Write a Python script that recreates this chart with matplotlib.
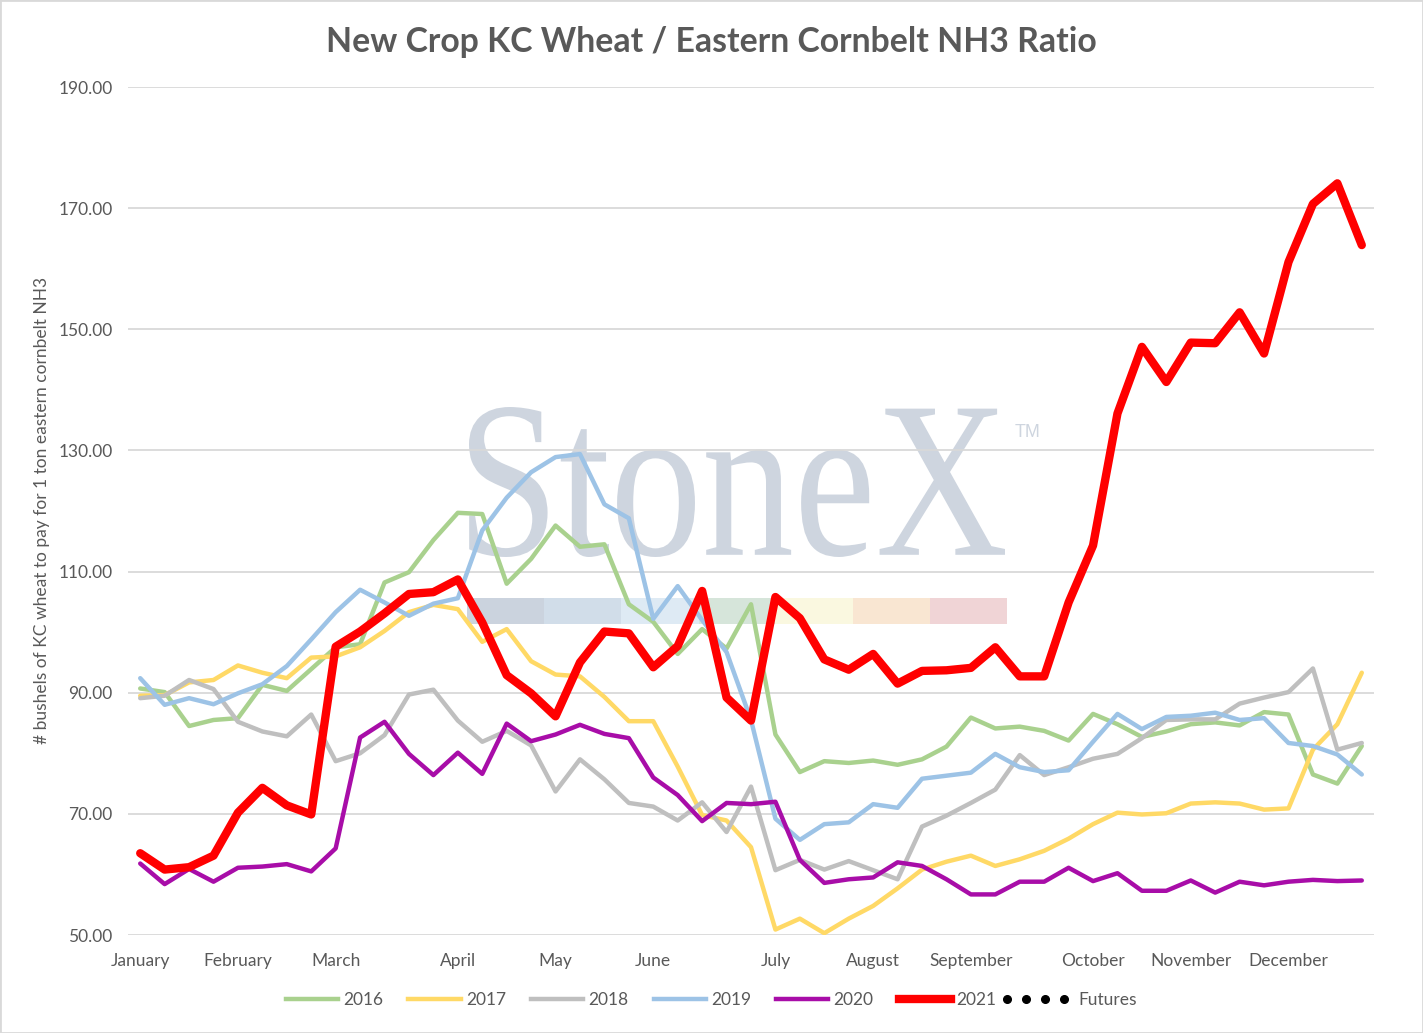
import matplotlib
matplotlib.use("Agg")
import matplotlib.pyplot as plt
import numpy as np
from matplotlib.lines import Line2D
from matplotlib.legend_handler import HandlerLine2D
from matplotlib.patches import PathPatch, Rectangle
from matplotlib.textpath import TextPath
from matplotlib.font_manager import FontProperties
from matplotlib.transforms import Affine2D

W, H = 1423, 1033

# weekly points, month labels only at the first week of each month
months = ["January", "February", "March", "April", "May", "June", "July",
          "August", "September", "October", "November", "December"]
month_pos = [0, 4, 8, 13, 17, 21, 26, 30, 34, 39, 43, 47]

y2016 = [90.7, 90.1, 84.5, 85.5, 85.8, 91.3, 90.3, 93.9, 97.5, 98.0,
         108.2, 109.9, 115.2, 119.7, 119.5, 108.0, 112.1, 117.6, 114.1, 114.5,
         104.6, 101.7, 96.4, 100.5, 97.3, 104.6, 83.1, 76.9, 78.7, 78.4,
         78.8, 78.1, 79.0, 81.1, 85.9, 84.1, 84.4, 83.7, 82.1, 86.5,
         84.8, 82.7, 83.6, 84.8, 85.1, 84.6, 86.8, 86.4, 76.5, 75.0, 81.2]
y2017 = [89.5, 89.6, 91.7, 92.1, 94.5, 93.3, 92.4, 95.8, 96.0, 97.5,
         100.2, 103.3, 104.5, 103.8, 98.4, 100.5, 95.2, 93.0, 92.7, 89.3,
         85.3, 85.3, 77.8, 69.8, 68.9, 64.5, 50.9, 52.7, 50.3, 52.7,
         54.8, 57.7, 60.8, 62.1, 63.1, 61.4, 62.5, 63.9, 65.9, 68.3,
         70.2, 69.9, 70.1, 71.7, 71.9, 71.7, 70.7, 70.9, 80.6, 84.8, 93.3]
y2018 = [89.1, 89.5, 92.1, 90.6, 85.2, 83.6, 82.8, 86.4, 78.7, 80.0,
         83.0, 89.7, 90.5, 85.4, 81.9, 83.7, 81.3, 73.7, 79.0, 75.7,
         71.8, 71.2, 68.9, 71.9, 67.0, 74.5, 60.7, 62.4, 60.8, 62.2,
         60.7, 59.2, 67.9, 69.7, 71.8, 74.0, 79.7, 76.4, 77.7, 79.1,
         79.9, 82.5, 85.5, 85.6, 85.6, 88.2, 89.2, 90.1, 94.0, 80.6, 81.7]
y2019 = [92.4, 88.0, 89.1, 88.1, 89.9, 91.4, 94.4, 98.8, 103.3, 107.0,
         104.9, 102.7, 104.7, 105.6, 116.8, 122.2, 126.4, 128.9, 129.4, 121.1,
         118.8, 102.2, 107.6, 102.0, 96.7, 85.5, 69.2, 65.7, 68.3, 68.6,
         71.6, 71.0, 75.8, 76.3, 76.8, 79.9, 77.7, 76.9, 77.2, 81.9,
         86.5, 84.0, 86.0, 86.2, 86.7, 85.5, 85.8, 81.7, 81.2, 79.8, 76.5]
y2020 = [61.8, 58.4, 60.9, 58.8, 61.1, 61.3, 61.7, 60.5, 64.3, 82.6,
         85.2, 79.9, 76.4, 80.1, 76.6, 84.9, 82.0, 83.1, 84.7, 83.2,
         82.5, 76.0, 73.1, 68.8, 71.8, 71.6, 72.0, 62.4, 58.6, 59.2,
         59.5, 62.0, 61.4, 59.2, 56.7, 56.7, 58.8, 58.8, 61.1, 58.9,
         60.2, 57.3, 57.3, 59.0, 57.0, 58.8, 58.2, 58.8, 59.1, 58.9, 59.0]
y2021 = [63.5, 60.8, 61.2, 63.1, 70.2, 74.3, 71.4, 69.9, 97.6, 100.1,
         103.1, 106.3, 106.6, 108.7, 101.6, 92.9, 89.9, 86.1, 95.0, 100.1,
         99.8, 94.2, 97.7, 106.8, 89.2, 85.4, 105.8, 102.3, 95.5, 93.8,
         96.4, 91.5, 93.6, 93.7, 94.1, 97.5, 92.7, 92.7, 104.9, 114.3,
         136.1, 147.1, 141.3, 147.8, 147.7, 152.8, 146.0, 161.1, 170.7, 174.1, 163.9]

years = ["2016", "2017", "2018", "2019", "2020", "2021"]
series = [y2016, y2017, y2018, y2019, y2020, y2021]
colors = ["#A9D18E", "#FFD966", "#BFBFBF", "#9DC3E6", "#A80DA8", "#FF0000"]
widths = [3.2, 3.2, 3.2, 3.2, 3.2, 6]

TXT = "#595959"
plt.rcParams['font.family'] = ['Lato', 'DejaVu Sans']


class DotsHandler(HandlerLine2D):
    # four dots, shifted a bit left so they do not touch the label
    def get_xdata(self, legend, xdescent, ydescent, width, height, fontsize):
        xd = np.linspace(-xdescent - 10, -xdescent + width - 7, 4)
        return xd, xd


fig = plt.figure(figsize=(W / 100, H / 100), dpi=100)
ax = fig.add_axes([128 / W, 1 - 935 / H, (1374 - 128) / W, (935 - 87) / H])


def fx(px):
    return px / W


def fy(py):
    return 1 - py / H


# StoneX watermark behind the lines
tp = TextPath((0, 0), "StoneX", size=100, prop=FontProperties(family='Liberation Serif'))
bb = tp.get_extents()
x0, x1 = fx(469), fx(1005)
y0, y1 = fy(557), fy(407)
tr = (Affine2D().translate(-bb.x0, -bb.y0)
      .scale((x1 - x0) / bb.width, (y1 - y0) / bb.height).translate(x0, y0))
ax.add_patch(PathPatch(tr.transform_path(tp), transform=fig.transFigure,
                       fc="#CED5DF", ec="none", zorder=0.2))
fig.text(fx(1015), fy(437), "TM", fontsize=13, color="#CED5DF",
         family="Liberation Sans", ha="left", va="baseline")

bar_edges = [467, 544, 621, 699, 775, 853, 930, 1007]
bar_colors = ["#CBD3DE", "#D1DDE9", "#DEEAF4", "#D6E5DA", "#FAF8E0", "#F9E6D2", "#F0D4D6"]
for i, c in enumerate(bar_colors):
    ax.add_patch(Rectangle((fx(bar_edges[i]), fy(624)), fx(bar_edges[i + 1]) - fx(bar_edges[i]),
                           fy(598) - fy(624), transform=fig.transFigure,
                           fc=c, ec="none", zorder=0.2))

for yr, vals, c, lw in zip(years, series, colors, widths):
    ax.plot(range(len(vals)), vals, color=c, lw=lw, label=yr,
            solid_joinstyle="round", solid_capstyle="round", zorder=2)

n = len(y2021)
ax.set_xlim(-0.5, n - 0.5)
ax.set_ylim(50, 190)
ax.set_yticks(range(50, 191, 20))
ax.set_yticklabels([f"{v:.2f}" for v in range(50, 191, 20)])
ax.set_xticks(month_pos)
ax.set_xticklabels(months)
ax.yaxis.grid(True, color="#D9D9D9", lw=1.3)
ax.set_axisbelow(True)
for s in ax.spines.values():
    s.set_visible(False)
ax.tick_params(length=0, labelsize=12.5, colors=TXT)
ax.tick_params(axis="y", pad=11)
ax.tick_params(axis="x", pad=13)

fig.text(0.5, fy(42), "New Crop KC Wheat / Eastern Cornbelt NH3 Ratio",
         ha="center", va="center", fontsize=24.3, weight="bold", color=TXT)
fig.text(fx(42), fy(510), "# bushels of KC wheat to pay for 1 ton eastern cornbelt NH3",
         rotation=90, ha="center", va="center", fontsize=12.5, color=TXT)

handles = [Line2D([], [], color=c, lw=lw) for c, lw in zip(colors, widths)]
# futures: no data yet, only the dotted legend entry
fut = Line2D([], [], color="black", linestyle="none", marker="o", markersize=5.5)
handles.append(fut)
labels = years + ["Futures"]
fig.legend(handles, labels, loc="center", bbox_to_anchor=(0.5, fy(1000)), ncol=7,
           frameon=False, fontsize=12.5, labelcolor=TXT, handlelength=3.0,
           handletextpad=0.3, columnspacing=1.45,
           handler_map={fut: DotsHandler(numpoints=4)})

fig.add_artist(Rectangle((0, 0), 1, 1, transform=fig.transFigure, fill=False,
                         ec="#D9D9D9", lw=2))

fig.savefig("out.png", dpi=100)
